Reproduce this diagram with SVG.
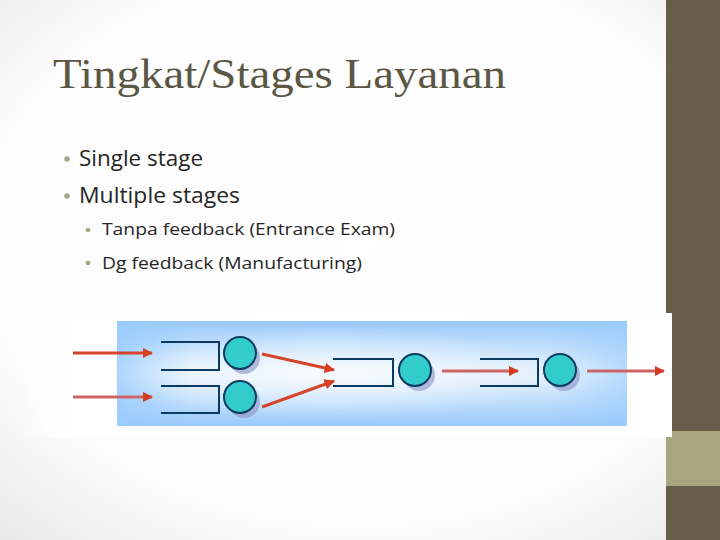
<svg xmlns="http://www.w3.org/2000/svg" width="720" height="540" viewBox="0 0 720 540">
<defs>
<radialGradient id="bg" cx="0.5" cy="0.45" r="0.75">
<stop offset="0" stop-color="#ffffff"/><stop offset="0.7" stop-color="#fcfcfc"/><stop offset="1" stop-color="#e8e8e8"/>
</radialGradient>
<linearGradient id="wfade" x1="0" y1="0" x2="1" y2="0">
<stop offset="0" stop-color="#ffffff" stop-opacity="0"/><stop offset="1" stop-color="#ffffff" stop-opacity="1"/>
</linearGradient>
<linearGradient id="blue" x1="0" y1="0" x2="0" y2="1">
<stop offset="0" stop-color="#99c9fb"/><stop offset="0.45" stop-color="#e2f0fd"/><stop offset="0.55" stop-color="#e2f0fd"/><stop offset="1" stop-color="#99c9fb"/>
</linearGradient>
<linearGradient id="side" x1="0" y1="0" x2="1" y2="0">
<stop offset="0" stop-color="#99ccff" stop-opacity="0.8"/><stop offset="0.15" stop-color="#99ccff" stop-opacity="0"/><stop offset="0.85" stop-color="#99ccff" stop-opacity="0"/><stop offset="1" stop-color="#99ccff" stop-opacity="0.6"/>
</linearGradient>
<radialGradient id="glow" cx="0.42" cy="0.5" r="0.45">
<stop offset="0" stop-color="#ffffff" stop-opacity="0.7"/><stop offset="1" stop-color="#ffffff" stop-opacity="0"/>
</radialGradient>
<marker id="ah" viewBox="0 0 10 10" refX="9" refY="5" markerWidth="3.5" markerHeight="3.5" orient="auto" markerUnits="strokeWidth">
<path d="M0,0 L10,5 L0,10 z" fill="#d5401f"/>
</marker>
<marker id="ah2" viewBox="0 0 10 10" refX="9" refY="5" markerWidth="3.5" markerHeight="3.5" orient="auto" markerUnits="strokeWidth">
<path d="M0,0 L10,5 L0,10 z" fill="#d23a22"/>
</marker>
</defs>
<style>
.q{fill:none;stroke:#0b3a62;stroke-width:2}
.srv{fill:#33cccc;stroke:#0b3a62;stroke-width:2}
.sh{fill:#8a92c4;opacity:0.6}
.a1{stroke:#d5452a;stroke-width:3;fill:none;marker-end:url(#ah)}
.a2{stroke:#cc6666;stroke-width:3;fill:none;marker-end:url(#ah2)}
.b1{font-family:"Open Sans","Liberation Sans",sans-serif;font-size:21px;fill:#262626}
.b2{font-family:"Open Sans","Liberation Sans",sans-serif;font-size:17px;fill:#262626}
.dot{fill:#a9a58a}
</style>
<rect x="0" y="0" width="720" height="540" fill="url(#bg)"/>
<rect x="666" y="0" width="54" height="540" fill="#665e48"/>
<rect x="666" y="431" width="54" height="55" fill="#a9a57f"/>
<text x="53" y="88" font-family="'Liberation Serif',serif" font-size="42" fill="#5a5744" textLength="453" lengthAdjust="spacingAndGlyphs">Tingkat/Stages Layanan</text>
<circle class="dot" cx="67" cy="159" r="2.8"/>
<text class="b1" x="79" y="166" textLength="124" lengthAdjust="spacingAndGlyphs">Single stage</text>
<circle class="dot" cx="67" cy="196" r="2.8"/>
<text class="b1" x="79" y="203" textLength="161" lengthAdjust="spacingAndGlyphs">Multiple stages</text>
<circle class="dot" cx="88" cy="230" r="2.3"/>
<text class="b2" x="102" y="235" textLength="293" lengthAdjust="spacingAndGlyphs">Tanpa feedback (Entrance Exam)</text>
<circle class="dot" cx="88" cy="263" r="2.3"/>
<text class="b2" x="102" y="269" textLength="260" lengthAdjust="spacingAndGlyphs">Dg feedback (Manufacturing)</text>
<rect x="20" y="313" width="50" height="124" fill="url(#wfade)"/>
<rect x="70" y="313" width="602" height="124" fill="#ffffff"/>
<rect x="117" y="321" width="510" height="105" fill="url(#blue)"/>
<rect x="117" y="321" width="510" height="105" fill="url(#side)"/>
<rect x="117" y="321" width="510" height="105" fill="url(#glow)"/>
<g id="queue1">
<path class="q" d="M161,342 H219 V370 H161"/>
</g>
<g id="queue2">
<path class="q" d="M161,386 H219 V413 H161"/>
</g>
<g id="server1">
<circle class="sh" cx="244" cy="358" r="16"/>
<circle class="srv" cx="240" cy="353" r="16"/>
</g>
<g id="server2">
<circle class="sh" cx="244" cy="402" r="16"/>
<circle class="srv" cx="240" cy="397" r="16"/>
</g>
<g id="queue3">
<path class="q" d="M333,359 H393 V386 H333"/>
</g>
<g id="server3">
<circle class="sh" cx="419" cy="375" r="16"/>
<circle class="srv" cx="415" cy="370" r="16"/>
</g>
<g id="queue4">
<path class="q" d="M480,359 H538 V386 H480"/>
</g>
<g id="server4">
<circle class="sh" cx="564" cy="375" r="16"/>
<circle class="srv" cx="560" cy="370" r="16"/>
</g>
<g id="connectors">
<line class="a1" x1="73" y1="353" x2="152" y2="353"/>
<line class="a2" x1="73" y1="397" x2="152" y2="397"/>
<line class="a1" x1="262" y1="354" x2="334" y2="370"/>
<line class="a1" x1="262" y1="407" x2="334" y2="381"/>
<line class="a2" x1="442" y1="371" x2="518" y2="371"/>
<line class="a2" x1="587" y1="371" x2="664" y2="371"/>
</g>
</svg>
